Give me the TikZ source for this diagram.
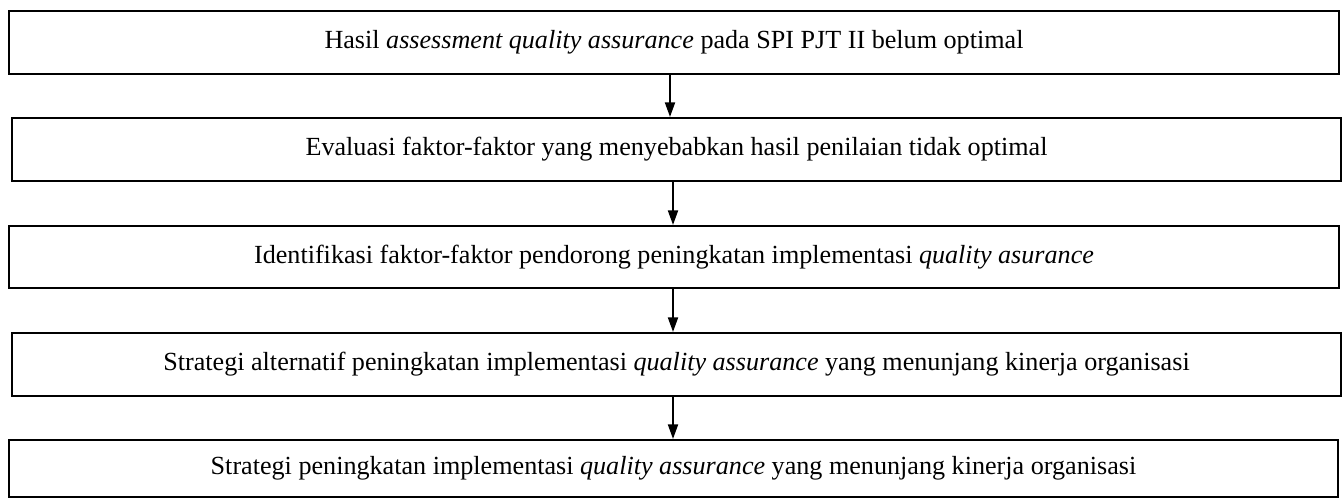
\documentclass[tikz,border=0pt]{standalone}
\usepackage{fontspec}
\setmainfont{Liberation Serif}
\usetikzlibrary{arrows.meta}
\begin{document}
\begin{tikzpicture}[x=0.75pt,y=-0.75pt,
  box/.style={draw=black, line width=1.5pt, inner sep=0pt, font=\fontsize{19.6pt}{23pt}\selectfont, minimum height=47.25pt},
  wideA/.style={minimum width=997.5pt},
  wideB/.style={minimum width=996.75pt},
  arr/.style={line width=1.5pt, -{Triangle[length=11pt,width=7.5pt]}}]
\useasboundingbox (0,0) rectangle (1344,499);
\node[box, wideA] (b1) at (674,42.5) {Hasil \textit{assessment quality assurance} pada SPI PJT II belum optimal};
\node[box, wideB] (b2) at (676.5,149.5) {Evaluasi faktor-faktor yang menyebabkan hasil penilaian tidak optimal};
\node[box, wideA, minimum height=46.5pt] (b3) at (674,257) {Identifikasi faktor-faktor pendorong peningkatan implementasi \textit{quality asurance}};
\node[box, wideB] (b4) at (676.5,364.5) {Strategi alternatif peningkatan implementasi \textit{quality assurance} yang menunjang kinerja organisasi};
\node[box, wideB, minimum height=42.75pt] (b5) at (673.5,468.5) {\raisebox{2pt}{Strategi peningkatan implementasi \textit{quality assurance} yang menunjang kinerja organisasi}};
\coordinate (x1) at (670,0);
\coordinate (x2) at (673,0);
\draw[arr] (x1 |- b1.south) -- (x1 |- b2.north);
\draw[arr] (x2 |- b2.south) -- (x2 |- b3.north);
\draw[arr] (x2 |- b3.south) -- (x2 |- b4.north);
\draw[arr] (x2 |- b4.south) -- (x2 |- b5.north);
\end{tikzpicture}
\end{document}
